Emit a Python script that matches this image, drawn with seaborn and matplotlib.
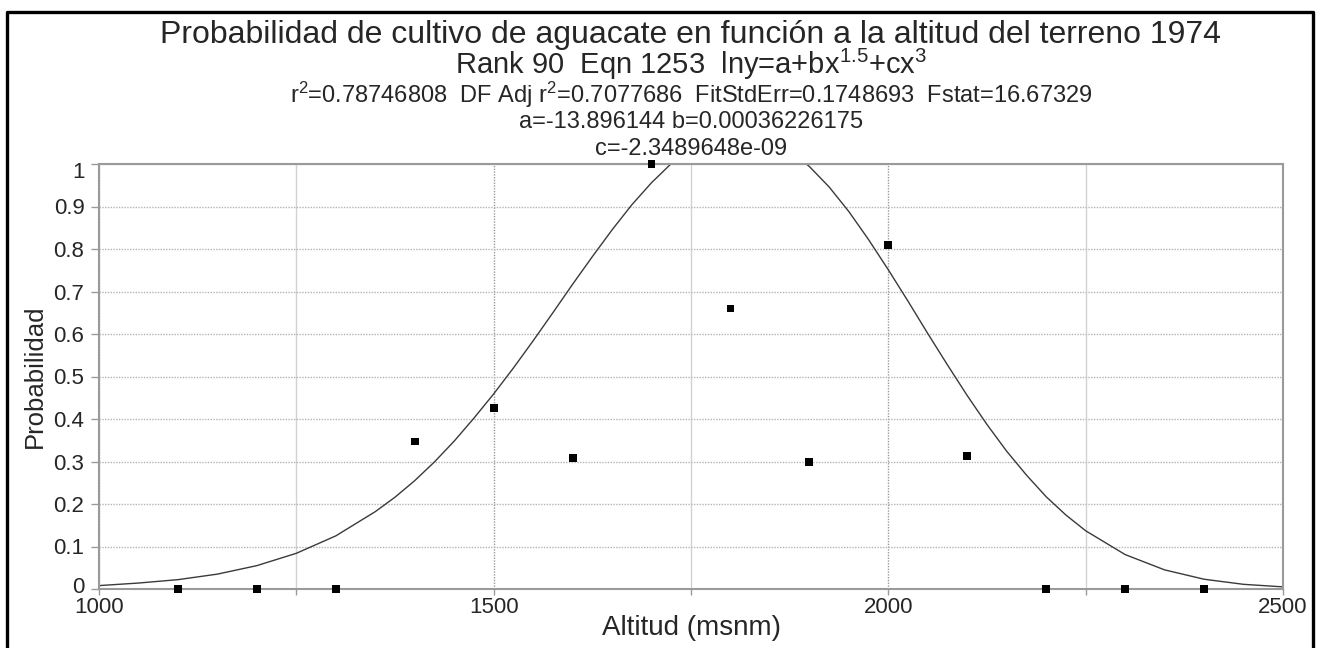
import matplotlib
matplotlib.use("Agg")
import matplotlib.pyplot as plt
import seaborn as sns
from matplotlib.lines import Line2D
from matplotlib.transforms import ScaledTranslation

# observed probabilities per altitude
altitud = [1100, 1200, 1300, 1400, 1500, 1600, 1700, 1800, 1900, 2000, 2100, 2200, 2300, 2400]
probabilidad = [0, 0, 0, 0.347, 0.425, 0.308, 1.0, 0.66, 0.298, 0.81, 0.312, 0, 0, 0]

# fitted curve
curva_x = [1000, 1050, 1100, 1150, 1200, 1250, 1300, 1350, 1375, 1400, 1425, 1450, 1475,
           1500, 1525, 1550, 1575, 1600, 1625, 1650, 1675, 1700, 1725, 1750, 1800,
           1850, 1875, 1900, 1925, 1950, 1975, 2000, 2025, 2050, 2075, 2100, 2125,
           2150, 2175, 2200, 2225, 2250, 2300, 2350, 2400, 2450, 2500]
curva_y = [0.008, 0.014, 0.022, 0.035, 0.055, 0.084, 0.125, 0.182, 0.216, 0.255, 0.299, 0.348, 0.402,
           0.459, 0.520, 0.584, 0.650, 0.717, 0.782, 0.845, 0.904, 0.956, 1.001, 1.036, 1.072,
           1.059, 1.033, 0.994, 0.946, 0.888, 0.822, 0.751, 0.677, 0.601, 0.527, 0.455, 0.387,
           0.324, 0.268, 0.217, 0.174, 0.137, 0.081, 0.045, 0.023, 0.011, 0.005]

x_ticks = [1000, 1500, 2000, 2500]
x_minor = [1250, 1750, 2250]
y_ticks = [0, 0.1, 0.2, 0.3, 0.4, 0.5, 0.6, 0.7, 0.8, 0.9, 1]
y_tick_labels = ["0", "0.1", "0.2", "0.3", "0.4", "0.5", "0.6", "0.7", "0.8", "0.9", "1"]

titulo = "Probabilidad de cultivo de aguacate en función a la altitud del terreno 1974"
linea2 = r"Rank 90  Eqn 1253  lny=a+bx$^{1.5}$+cx$^{3}$"
linea3 = r"r$^{2}$=0.78746808  DF Adj r$^{2}$=0.7077686  FitStdErr=0.1748693  Fstat=16.67329"
linea4 = "a=-13.896144 b=0.00036226175"
linea5 = "c=-2.3489648e-09"

sns.set_style("white")
plt.rcParams["font.family"] = ["Liberation Sans", "DejaVu Sans"]
plt.rcParams["mathtext.fontset"] = "custom"
plt.rcParams["mathtext.rm"] = "Liberation Sans"
plt.rcParams["mathtext.it"] = "Liberation Sans"
plt.rcParams["mathtext.default"] = "regular"

W, H = 1324, 648
fig, ax = plt.subplots(figsize=(W / 100, H / 100), dpi=100)
fig.subplots_adjust(left=99 / W, right=1283 / W, bottom=1 - 589 / H, top=1 - 164 / H)

sns.lineplot(x=curva_x, y=curva_y, ax=ax, color="#3a3a3a", lw=1.0)
sns.scatterplot(x=altitud, y=probabilidad, ax=ax, marker="s", s=32, color="black",
                edgecolor="none", clip_on=False, zorder=5)

ax.set_xlim(1000, 2500)
ax.set_ylim(0, 1)
ax.set_xticks(x_ticks)
ax.set_xticks(x_minor, minor=True)
ax.set_yticks(y_ticks)
ax.set_yticklabels(y_tick_labels)

for s in ax.spines.values():
    s.set_color("#9a9a9a")
    s.set_linewidth(1.5)

ax.tick_params(axis="y", which="both", direction="out", color="#9a9a9a", length=6,
               width=1, labelsize=16, pad=4.5, left=True)
ax.tick_params(axis="x", which="both", direction="out", color="#9a9a9a", length=4,
               width=1, labelsize=16, pad=2, bottom=True)

# nudge the end labels like the original software does
ylabs = ax.get_yticklabels()
ylabs[0].set_transform(ylabs[0].get_transform() + ScaledTranslation(0, 4 / 100, fig.dpi_scale_trans))
ylabs[-1].set_transform(ylabs[-1].get_transform() + ScaledTranslation(0, -6 / 100, fig.dpi_scale_trans))

ax.yaxis.grid(True, linestyle=(0, (1, 1)), color="#b5b5b5", lw=1)
ax.xaxis.grid(True, which="major", linestyle=(0, (1, 1)), color="#9a9a9a", lw=1)
ax.xaxis.grid(True, which="minor", linestyle="-", color="#d2d2d2", lw=1)
ax.set_axisbelow(True)

ax.set_xlabel("Altitud (msnm)", fontsize=20)
ax.set_ylabel("Probabilidad", fontsize=18.5, va="center")
ax.xaxis.set_label_coords(0.5, -(628 - 589) / (589 - 164))
ax.xaxis.label.set_va("center")
ax.yaxis.set_label_coords(-(99 - 35) / (1283 - 99), 0.5)

# title block, centred over the plot area
cx = 691 / W
fig.text(cx, 1 - 43 / H, titulo, ha="center", va="baseline", fontsize=23)
fig.text(cx, 1 - 74 / H, linea2, ha="center", va="baseline", fontsize=21)
fig.text(cx, 1 - 103 / H, linea3, ha="center", va="baseline", fontsize=17)
fig.text(cx, 1 - 128 / H, linea4, ha="center", va="baseline", fontsize=17)
fig.text(cx, 1 - 155 / H, linea5, ha="center", va="baseline", fontsize=17)

# frame around the picture (open at the bottom)
fig.add_artist(Line2D([6.5 / W, 6.5 / W, 1312.5 / W, 1312.5 / W],
                      [0, 1 - 11.5 / H, 1 - 11.5 / H, 0],
                      transform=fig.transFigure, color="black", lw=2.4))

fig.savefig("out.png", dpi=100)
